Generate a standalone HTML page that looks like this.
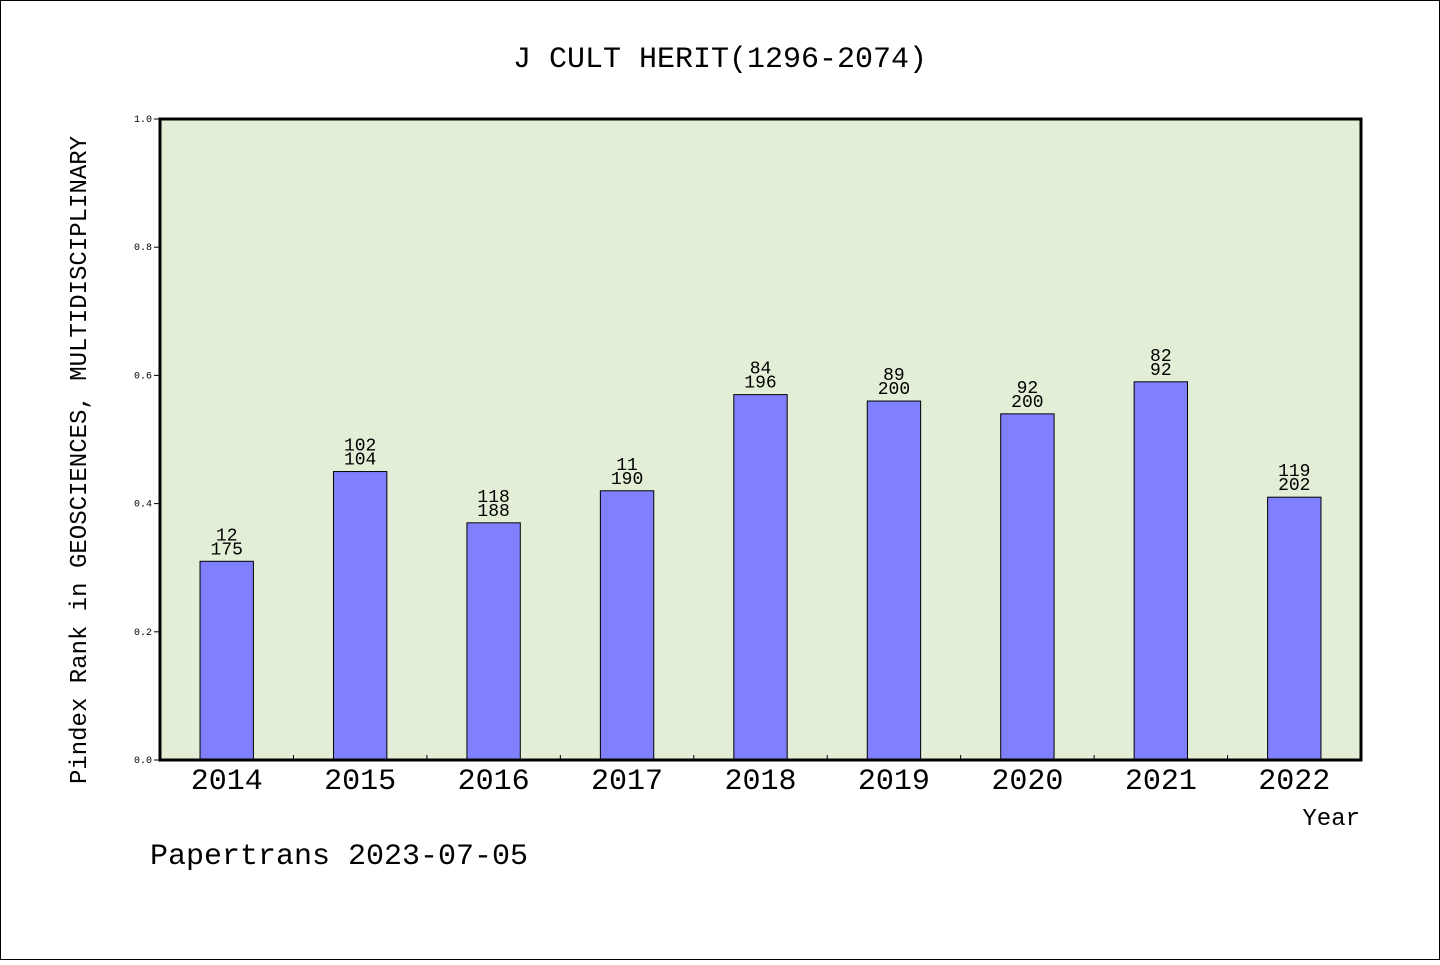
<!DOCTYPE html>
<html><head><meta charset="utf-8"><style>
body{margin:0;background:#fff}
svg text{font-family:"WenQuanYi Zen Hei","Liberation Mono",monospace;fill:#000}
</style></head><body>
<svg id="chart" width="1440" height="960" xmlns="http://www.w3.org/2000/svg">
<rect x="0.5" y="0.5" width="1439" height="959" fill="#fff" stroke="#000"/>
<text x="720" y="67" font-size="30" text-anchor="middle">J CULT HERIT(1296-2074)</text>
<rect x="160" y="119" width="1201" height="641" fill="#e2efd6"/>
<g id="ticks"></g>
<g id="bars"></g>
<rect x="160" y="119" width="1201" height="641" fill="none" stroke="#000" stroke-width="3"/>
<text transform="translate(86,460) rotate(-90)" font-size="24" text-anchor="middle">Pindex Rank in GEOSCIENCES, MULTIDISCIPLINARY</text>
<text x="1360" y="825" font-size="24" text-anchor="end">Year</text>
<text x="150" y="864" font-size="30">Papertrans 2023-07-05</text>
</svg>
<script>
const years=["2014","2015","2016","2017","2018","2019","2020","2021","2022"];
const values=[0.31,0.45,0.37,0.42,0.57,0.56,0.54,0.59,0.41];
const topLabels=["12","102","118","11","84","89","92","82","119"];
const bottomLabels=["175","104","188","190","196","200","200","92","202"];
const yTicks=[0,0.2,0.4,0.6,0.8,1.0];
const NS="http://www.w3.org/2000/svg";
const L=160,R=1361,T=119,B=760;
const yScale=v=>B-(B-T)*v;
const band=(R-L)/years.length;
const xc=i=>L+band*(i+0.5);
function mk(tag,attrs,parent,txt){const e=document.createElementNS(NS,tag);for(const k in attrs)e.setAttribute(k,attrs[k]);if(txt!==undefined)e.textContent=txt;parent.appendChild(e);return e;}
const tg=document.getElementById('ticks');
yTicks.forEach(t=>{
 const l=mk('line',{x1:L-6,x2:L,y1:yScale(t),y2:yScale(t),stroke:'#000'},tg);
 
 
 const tx=mk('text',{x:152,y:yScale(t)+3,'font-size':10,'text-anchor':'end'},tg,t.toFixed(1));
 
 
});
const bg=document.getElementById('bars');
for(let i=1;i<years.length;i++){
 const l=mk('line',{x1:L+band*i,x2:L+band*i,y1:B,y2:B-5,stroke:'#000'},bg);
 
 
}
const bw=band*0.4;
years.forEach((yr,i)=>{
 const r=mk('rect',{x:xc(i)-bw/2,y:yScale(values[i]),width:bw,height:B-yScale(values[i]),fill:'#8080ff',stroke:'#000','stroke-width':1},bg);
 
 
 const a=mk('text',{x:xc(i),y:yScale(values[i])-21,'font-size':18,'text-anchor':'middle'},bg,topLabels[i]);
 
 
 const b=mk('text',{x:xc(i),y:yScale(values[i])-7,'font-size':18,'text-anchor':'middle'},bg,bottomLabels[i]);
 
 
 const xl=mk('text',{x:xc(i),y:789,'font-size':30,'text-anchor':'middle'},bg,yr);
 
 
});
</script>
</body></html>
